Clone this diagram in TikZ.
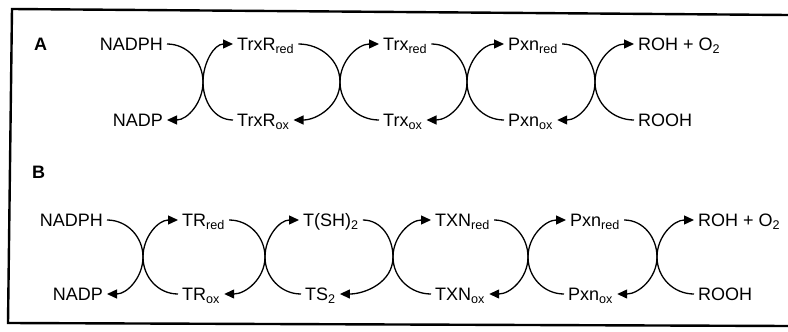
\documentclass[tikz,border=0pt]{standalone}
\usepackage{fontspec}
\setmainfont{Liberation Sans}
\usetikzlibrary{arrows.meta}
\begin{document}
\begin{tikzpicture}[x=1pt,y=-1pt,
  lab/.style={font=\fontsize{18}{20}\selectfont, inner xsep=4pt, inner ysep=0pt, text height=13pt, text depth=0pt},
  panel/.style={font=\bfseries\fontsize{18}{20}\selectfont, inner sep=0pt, text height=13pt, text depth=0pt, anchor=west},
  conn/.style={line width=1.3pt},
  arr/.style={conn, -{Triangle[length=10pt,width=9pt]}}]
\useasboundingbox (0,0) rectangle (788,332);
\draw[line width=2.4pt] (788,15) -- (12,9) -- (8,323) -- (788,326);

% ---------- Panel A ----------
\node[panel] (A) at (34,44) {A};
\node[lab,anchor=east] (a0t) at (167,44) {NADPH};
\node[lab,anchor=east] (a0b) at (167,120) {NADP};
\node[lab,anchor=west] (a1t) at (233,44) {TrxR\textsubscript{red}};
\node[lab,anchor=west] (a1b) at (233,120) {TrxR\textsubscript{ox}};
\node[lab,anchor=west] (a2t) at (379,44) {Trx\textsubscript{red}};
\node[lab,anchor=west] (a2b) at (379,120) {Trx\textsubscript{ox}};
\node[lab,anchor=west] (a3t) at (504,44) {Pxn\textsubscript{red}};
\node[lab,anchor=west] (a3b) at (504,120) {Pxn\textsubscript{ox}};
\node[lab,anchor=west] (a4t) at (634,44) {ROH + O\textsubscript{2}};
\node[lab,anchor=west] (a4b) at (634,120) {ROOH};
\coordinate (xa1) at (203,82);
\coordinate (xa2) at (340,82);
\coordinate (xa3) at (467,82);
\coordinate (xa4) at (595,82);

\foreach \l/\r/\x in {a0/a1/xa1, a1/a2/xa2, a2/a3/xa3, a3/a4/xa4}{
  \draw[arr] (\l t.east) to[out=0,in=90] (\x) to[out=-90,in=0] (\l b.east);
  \draw[arr] (\r b.west) to[out=180,in=-90] (\x) to[out=90,in=180] (\r t.west);
}

% ---------- Panel B ----------
\node[panel] (B) at (32,172) {B};
\node[lab,anchor=east] (b0t) at (107,220) {NADPH};
\node[lab,anchor=east] (b0b) at (107,294) {NADP};
\node[lab,anchor=west] (b1t) at (178,220) {TR\textsubscript{red}};
\node[lab,anchor=west] (b1b) at (178,294) {TR\textsubscript{ox}};
\node[lab,anchor=west] (b2t) at (299,220) {T(SH)\textsubscript{2}};
\node[lab,anchor=west] (b2b) at (301,294) {TS\textsubscript{2}};
\node[lab,anchor=west] (b3t) at (431,220) {TXN\textsubscript{red}};
\node[lab,anchor=west] (b3b) at (431,294) {TXN\textsubscript{ox}};
\node[lab,anchor=west] (b4t) at (566,220) {Pxn\textsubscript{red}};
\node[lab,anchor=west] (b4b) at (564,294) {Pxn\textsubscript{ox}};
\node[lab,anchor=west] (b5t) at (694,220) {ROH + O\textsubscript{2}};
\node[lab,anchor=west] (b5b) at (694,294) {ROOH};
\coordinate (xb1) at (143,257);
\coordinate (xb2) at (265,257);
\coordinate (xb3) at (393,257);
\coordinate (xb4) at (528,257);
\coordinate (xb5) at (657,257);

\foreach \l/\r/\x in {b0/b1/xb1, b1/b2/xb2, b2/b3/xb3, b3/b4/xb4, b4/b5/xb5}{
  \draw[arr] (\l t.east) to[out=0,in=90] (\x) to[out=-90,in=0] (\l b.east);
  \draw[arr] (\r b.west) to[out=180,in=-90] (\x) to[out=90,in=180] (\r t.west);
}
\end{tikzpicture}
\end{document}
